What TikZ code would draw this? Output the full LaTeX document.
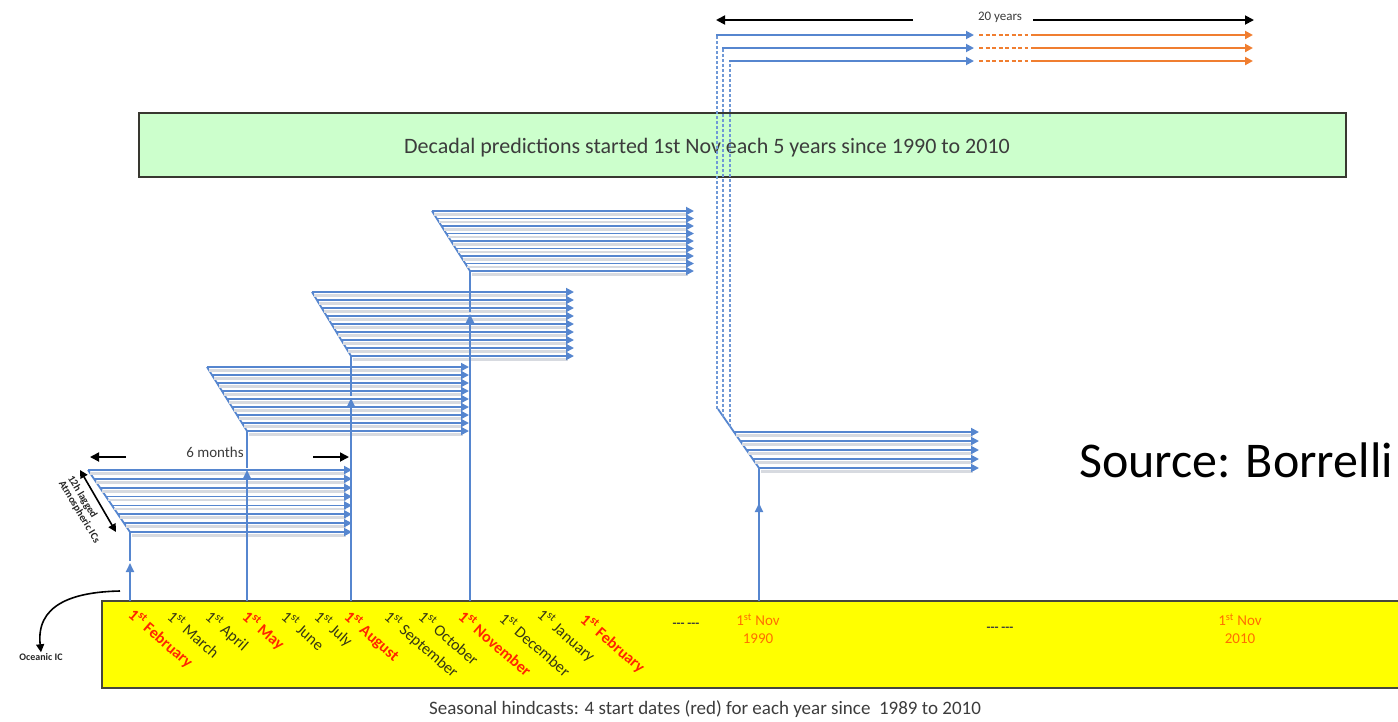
\documentclass[tikz,border=0pt]{standalone}
\usepackage{fontspec}
\setmainfont{Carlito}
\usetikzlibrary{arrows.meta}
\definecolor{flowblue}{RGB}{86,134,207}
\definecolor{flowshade}{RGB}{215,218,224}
\definecolor{futureorange}{RGB}{240,126,48}
\definecolor{keyred}{RGB}{255,38,0}
\definecolor{novorange}{RGB}{255,110,0}
\definecolor{monthdark}{RGB}{55,55,20}
\definecolor{seasyellow}{RGB}{255,255,0}
\definecolor{decgreen}{RGB}{204,255,204}
\definecolor{boxedge}{RGB}{70,70,60}
\definecolor{captiongray}{RGB}{60,60,60}

\newcommand\fsz[1]{\fontsize{#1}{#1}\selectfont}

% One block of lagged runs: slant from (#1,#2) to (#3,#4), arrows end at x=#5,
% #6 arrows, the first one at y=#7
\newcommand\lagblock[7]{%
  \draw[stemline] (#1,#2) -- (#3,#4);
  \foreach \k in {1,...,#6}{%
    \pgfmathsetmacro\yy{#7+(\k-1)*(#4-#7)/(#6-1)}%
    \pgfmathsetmacro\xx{#1+(\yy-#2)/(#4-#2)*(#3-#1)}%
    \draw[rowshade] (\xx+2,\yy+3.5) -- (#5-6,\yy+3.5);
    \draw[rowarrow] (\xx,\yy) -- (#5,\yy);
  }%
}

\begin{document}
\begin{tikzpicture}[x=1pt,y=-1pt,
  rowarrow/.style={draw=flowblue, line width=1.8pt, -{Triangle[length=8pt,width=8pt]}},
  rowshade/.style={draw=flowshade, line width=2.6pt},
  stemline/.style={draw=flowblue, line width=1.8pt},
  stemarrow/.style={stemline, -{Triangle[length=9pt,width=8pt]}},
  monthlbl/.style={anchor=north west, rotate=-41, inner sep=0pt, font=\fsz{16}, text=monthdark},
  keylbl/.style={monthlbl, text=keyred, font=\bfseries\fsz{16}},
  novlbl/.style={align=center, inner sep=0pt, font=\fsz{15}, text=novorange},
  gaplbl/.style={inner sep=0pt, font=\bfseries\fsz{13}, text=captiongray},
  spanarrow/.style={draw=black, line width=1.8pt, -{Triangle[length=9pt,width=9pt]}},
  futuredash/.style={draw=futureorange, line width=2.4pt, dash pattern=on 4pt off 2.5pt},
  futurearrow/.style={draw=futureorange, line width=2pt, -{Triangle[length=8pt,width=8pt]}},
  decdash/.style={draw=flowblue!85, line width=1.1pt, dash pattern=on 3pt off 2pt},
]
\useasboundingbox (0,0) rectangle (1398,721);
\clip (0,0) rectangle (1398,721);

% seasonal start-date strip
\draw[draw=boxedge, line width=2pt, fill=seasyellow] (102,601) rectangle (1430,688);
\node[font=\fsz{19}, text=captiongray] (caption) at (705,709) {Seasonal hindcasts: 4 start dates (red) for each year since\ \ 1989 to 2010};

% decadal banner
\draw[draw=boxedge!80!black, line width=2pt, fill=decgreen] (139,113) rectangle (1346,177);
\node[font=\fsz{22}, text=captiongray] (decadal) at (707,148) {Decadal predictions started 1st Nov each 5 years since 1990 to 2010};

% month labels
\node[keylbl]   (feb1) at (136,606) {1\textsuperscript{st} February};
\node[monthlbl] (mar)  at (175,608) {1\textsuperscript{st} March};
\node[monthlbl] (apr)  at (213,608) {1\textsuperscript{st} April};
\node[keylbl]   (may)  at (250,608) {1\textsuperscript{st} May};
\node[monthlbl] (jun)  at (289,608) {1\textsuperscript{st} June};
\node[monthlbl] (jul)  at (322,608) {1\textsuperscript{st} July};
\node[keylbl]   (aug)  at (352,608) {1\textsuperscript{st} August};
\node[monthlbl] (sep)  at (392,608) {1\textsuperscript{st} September};
\node[monthlbl] (oct)  at (426,608) {1\textsuperscript{st} October};
\node[keylbl]   (nov)  at (466,608) {1\textsuperscript{st} November};
\node[monthlbl] (dec)  at (507,610) {1\textsuperscript{st} December};
\node[monthlbl] (jan)  at (545,606) {1\textsuperscript{st} January};
\node[keylbl]   (feb2) at (588,611) {1\textsuperscript{st} February};
\node[gaplbl] (gapa) at (686,625) {{-}{-}{-} {-}{-}{-}};
\node[novlbl] (nov1990) at (758,629) {1\textsuperscript{st} Nov\\[3pt]1990};
\node[gaplbl] (gapb) at (1000,629) {{-}{-}{-} {-}{-}{-}};
\node[novlbl] (nov2010) at (1240,629) {1\textsuperscript{st} Nov\\[3pt]2010};

% oceanic initial conditions
\coordinate (ocstart) at (120,591);
\node[font=\bfseries\fsz{10}, text=black!85, inner sep=1pt] (ocean) at (41,657) {Oceanic IC};
\draw[line width=1.6pt, -{Triangle[length=8pt,width=8pt]}] (ocstart) .. controls (70,592) and (36,606) .. (ocean.north);

% seasonal blocks of lagged atmospheric ICs
\lagblock{88}{470}{130}{532}{352}{8}{470}
\lagblock{207}{367}{247}{431}{469}{9}{367}
\lagblock{312}{292}{351}{356}{574}{9}{292}
\lagblock{432}{211}{470}{271}{694}{9}{211}

% stems rising from the start dates
\foreach \sx/\sy/\ay in {130/532/563, 247/431/470, 351/356/398, 470/271/314}{
  \draw[stemarrow] (\sx,601) -- (\sx,\ay);
  \draw[stemline] (\sx,\ay-2) -- (\sx,\sy);
}

% lagged ICs annotation
\draw[line width=1.6pt, {Triangle[length=8pt,width=8pt]}-{Triangle[length=8pt,width=8pt]}] (80,470) -- (116,532);
\node[anchor=north west, rotate=-59, align=left, inner sep=0pt, font=\bfseries\fsz{10.5}, text=black!85] (lagtxt) at (74,474) {12h lagged\\Atmospheric ICs};

% six months span
\node[font=\fsz{15}, text=captiongray, inner sep=1pt] (sixm) at (215,452) {6 months};
\coordinate (sixl) at (90,457);
\coordinate (sixr) at (349,457);
\draw[spanarrow] (126,457) -- (sixl);
\draw[spanarrow] (313,457) -- (sixr);

% decadal block
\lagblock{718}{409}{759}{468}{979}{5}{432}
\draw[stemarrow] (759,601) -- (759,503);
\draw[stemline] (759,505) -- (759,468);

% decadal runs: 20 years, the later part in orange
\foreach \dx/\dy/\db in {717/35/409, 723/48/417, 730/61/427}{
  \draw[decdash] (\dx,\db) -- (\dx,\dy+1);
  \draw[rowarrow] (\dx-0.9,\dy) -- (974,\dy);
  \draw[futuredash] (979,\dy) -- (1028,\dy);
  \draw[futurearrow] (1031,\dy) -- (1253,\dy);
}
\node[font=\fsz{13}, text=captiongray, inner sep=1pt] (twenty) at (1000,17) {20 years};
\coordinate (twl) at (716,20);
\coordinate (twr) at (1254,20);
\draw[spanarrow] (913,20) -- (twl);
\draw[spanarrow] (1033,20) -- (twr);

% source
\node[anchor=base west, inner sep=0pt, font=\fsz{50}] (source) at (1079,477) {Source: Borrelli};
\end{tikzpicture}
\end{document}
